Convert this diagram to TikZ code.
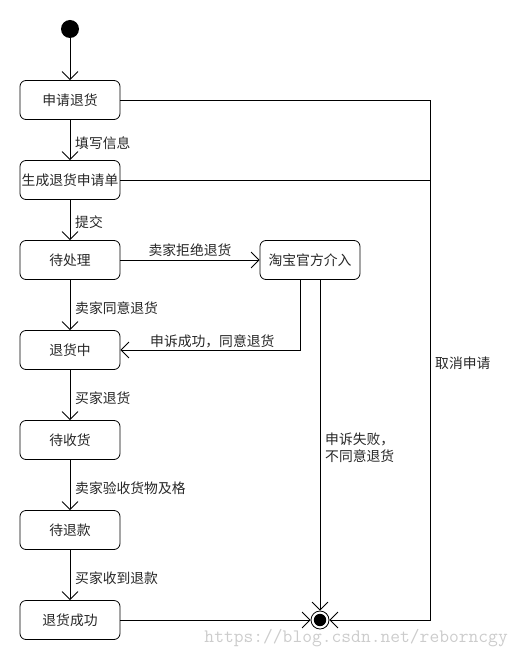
\documentclass[tikz,border=0pt]{standalone}
\usepackage{fontspec}
\newfontfamily\cjk{Noto Sans CJK SC}
\usetikzlibrary{arrows.meta}
\begin{document}
\begin{tikzpicture}[x=1pt,y=-1pt,
  every node/.style={font=\cjk\fontsize{13.8}{17}\selectfont, text=black!85},
  state/.style={draw, rounded corners=6pt, minimum width=100pt, minimum height=39pt, inner sep=0pt, line width=0.8pt},
  lbl/.style={anchor=west, inner sep=0pt},
  arr/.style={line width=0.8pt, -{Straight Barb[length=8pt,width=16pt,line width=0.8pt]}},
  ln/.style={line width=0.8pt}
]
\useasboundingbox (0,0) rectangle (520,660);
\node[circle, fill=black, minimum size=18pt, inner sep=0pt] (start) at (70,29) {};
\node[state] (r1) at (70,100) {申请退货};
\node[state] (r2) at (70,180) {生成退货申请单};
\node[state] (r3) at (70,260) {待处理};
\node[state] (tb) at (310,260) {淘宝官方介入};
\node[state] (r4) at (70,350) {退货中};
\node[state] (r5) at (70,440) {待收货};
\node[state] (r6) at (70,530) {待退款};
\node[state] (r7) at (70,620) {退货成功};
\node[circle, draw, line width=0.8pt, minimum size=18pt, inner sep=0pt] (end) at (320,620) {};
\fill (end.center) circle (6.2);
\coordinate (c1) at (430,100);

\draw[arr] (start) -- (r1);
\draw[arr] (r1) -- (r2);
\draw[arr] (r2) -- (r3);
\draw[arr] (r3) -- (tb);
\draw[arr] (r3) -- (r4);
\draw[arr] ([xshift=-10pt]tb.south) |- (r4.east);
\draw[arr] ([xshift=10pt]tb.south) -- (end.north);
\draw[arr] (r4) -- (r5);
\draw[arr] (r5) -- (r6);
\draw[arr] (r6) -- (r7);
\draw[arr] (r7) -- (end);
\draw[arr] (r1.east) -- (c1) |- (end.east);
\draw[ln] (r2.east) -- (r2.east -| c1);

\node[lbl] (l1) at (75,143) {填写信息};
\node[lbl] (l2) at (75,222) {提交};
\node[anchor=south, inner sep=0pt] (l3) at (190,257) {卖家拒绝退货};
\node[lbl] (l4) at (75,308) {卖家同意退货};
\node[lbl] (l5) at (150,341) {申诉成功，同意退货};
\node[lbl, align=left] (l6) at (325,448) {申诉失败，\\不同意退货};
\node[lbl] (l7) at (75,398) {买家退货};
\node[lbl] (l8) at (75,488) {卖家验收货物及格};
\node[lbl] (l9) at (75,578) {买家收到退款};
\node[lbl] (l10) at (435,363) {取消申请};
\node[anchor=east, inner sep=0pt, font=\ttfamily\fontsize{19}{20}\selectfont, text=black!20] (wm) at (508,638) {https://blog.csdn.net/reborncgy};
\end{tikzpicture}
\end{document}
